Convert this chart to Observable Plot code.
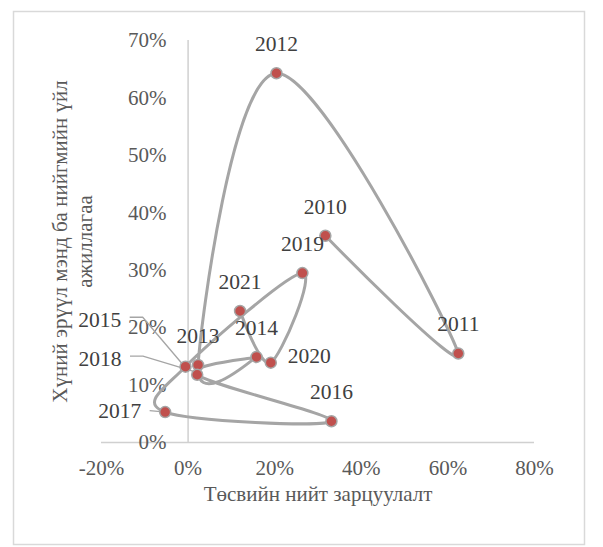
<!DOCTYPE html>
<html>
<head>
<meta charset="utf-8">
<script src="https://cdn.jsdelivr.net/npm/d3@7"></script>
<script src="https://cdn.jsdelivr.net/npm/@observablehq/plot@0.6"></script>
<style>
  html, body { margin: 0; padding: 0; background: #fff; }
  svg, svg text { font-family: "Liberation Serif", "Times New Roman", serif !important; }
</style>
</head>
<body>
<div id="chart"></div>
<script>
// ---- data ----
const years = [2010, 2011, 2012, 2013, 2014, 2015, 2016, 2017, 2018, 2019, 2020, 2021];
const budgetGrowth = [0.317, 0.624, 0.204, 0.023, 0.158, 0.021, 0.331, -0.053, -0.006, 0.264, 0.191, 0.120];
const healthGrowth = [0.360, 0.155, 0.643, 0.135, 0.149, 0.118, 0.037, 0.053, 0.132, 0.295, 0.139, 0.229];
const xTicks = [-0.2, 0, 0.2, 0.4, 0.6, 0.8];
const yTicks = [0, 0.1, 0.2, 0.3, 0.4, 0.5, 0.6, 0.7];
const xTitle = "Төсвийн нийт зарцуулалт";
const yTitle = "Хүний эрүүл мэнд ба нийгмийн үйл\nажиллагаа";

const rows = years.map((year, i) => ({year, x: budgetGrowth[i], y: healthGrowth[i]}));

// ---- label placement (styling) ----
const above = {dx: 0, dy: -29, anchor: "middle"};
const placement = {
  2015: {dx: -76, dy: -55, anchor: "end", leader: [[-67, -57], [-54, -57], [-9, -4]]},
  2018: {dx: -64, dy: -8, anchor: "end", leader: [[-55, -10], [-42, -10], [11, 6]]},
  2017: {dx: -24, dy: -1, anchor: "end", leader: [[-15, -1], [-4, 0]]},
  2020: {dx: 17, dy: -7, anchor: "start"}
};
const fmt = d => Math.round(d * 100) + "%";
const font = "Liberation Serif";

const labelMarks = rows.map(r => {
  const p = placement[r.year] || above;
  return Plot.text([r], {x: "x", y: "y", text: d => String(d.year), dx: p.dx, dy: p.dy,
    textAnchor: p.anchor, fontSize: 21.5, fill: "#404040", fontFamily: font});
});

const plot = Plot.plot({
  width: 603,
  height: 547,
  marginLeft: 101,
  marginRight: 69,
  marginTop: 40,
  marginBottom: 105,
  style: {fontFamily: font, background: "#fff", overflow: "visible"},
  x: {domain: [-0.2, 0.8]},
  y: {domain: [0, 0.7]},
  marks: [
    Plot.frame({stroke: "#d9d9d9", strokeWidth: 1.5, insetLeft: -88, insetTop: -29, insetRight: -50, insetBottom: -102}),
    Plot.ruleY([0], {stroke: "#d0d0d0", strokeWidth: 1.5}),
    Plot.ruleX([0], {y1: 0, y2: 0.7, stroke: "#d0d0d0", strokeWidth: 1.5}),
    Plot.axisX(xTicks, {tickSize: 0, tickPadding: 18, tickFormat: fmt, fontSize: 21, fontFamily: font, color: "#595959", label: null}),
    Plot.axisY(yTicks, {tickSize: 0, tickPadding: 0, dx: 65, tickFormat: fmt, fontSize: 21, fontFamily: font, color: "#595959", label: null}),
    Plot.text([xTitle], {frameAnchor: "bottom", dy: 58, fontSize: 21, fontFamily: font, fill: "#595959"}),
    Plot.text([yTitle], {frameAnchor: "left", textAnchor: "middle", dx: -30, rotate: -90, lineHeight: 1.2, fontSize: 21, fontFamily: font, fill: "#595959"}),
    Plot.line(rows, {x: "x", y: "y", curve: "cardinal", stroke: "#a5a5a5", strokeWidth: 3}),
    Plot.dot(rows, {x: "x", y: "y", r: 5.5, fill: "#c0504d", stroke: "#a5a5a5", strokeWidth: 1.5}),
    ...labelMarks
  ]
});

// leader lines for the labels placed away from their points (drawn under the dots)
const sx = plot.scale("x"), sy = plot.scale("y");
const dotGroup = d3.select(plot).select("g[aria-label=dot]").node();
rows.forEach(r => {
  const p = placement[r.year];
  if (!p || !p.leader) return;
  const px = sx.apply(r.x), py = sy.apply(r.y);
  const pts = p.leader.map(([ox, oy]) => [px + ox, py + oy]);
  const path = document.createElementNS("http://www.w3.org/2000/svg", "path");
  path.setAttribute("d", d3.line()(pts));
  path.setAttribute("fill", "none");
  path.setAttribute("stroke", "#a5a5a5");
  path.setAttribute("stroke-width", "1.3");
  plot.insertBefore(path, dotGroup);
});

document.getElementById("chart").appendChild(plot);
</script>
</body>
</html>
